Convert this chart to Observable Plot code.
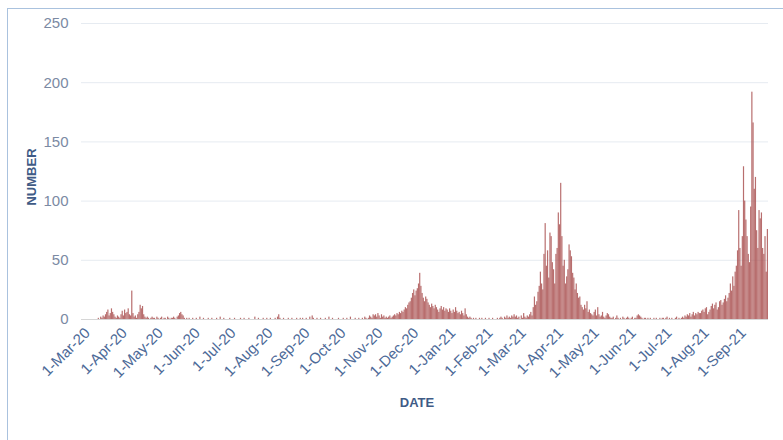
<!DOCTYPE html>
<html><head><meta charset="utf-8">
<script src="https://cdn.jsdelivr.net/npm/d3@7"></script>
<script src="https://cdn.jsdelivr.net/npm/@observablehq/plot@0.6"></script>
<style>
body{margin:0;background:#fff;width:783px;height:440px;overflow:hidden;position:relative;font-family:"Liberation Sans",Arial,sans-serif}
#frame{position:absolute;left:7px;top:8px;width:830px;height:490px;border:1.5px solid #aac2de;box-sizing:border-box}
#chart{position:absolute;left:0;top:0}
.ylab{position:absolute;left:31px;top:177px;transform:translate(-50%,-50%) rotate(-90deg);font-weight:bold;font-size:13px;color:#3f5b86;white-space:nowrap}
.xlab{position:absolute;left:417px;top:402px;transform:translate(-50%,-50%);font-weight:bold;font-size:13px;color:#3f5b86;white-space:nowrap}
</style>
</head><body>
<div id="frame"></div>
<div id="chart"></div>
<div class="ylab">NUMBER</div>
<div class="xlab">DATE</div>
<script>
const startDate = "2020-03-01";
const endDate = "2021-09-27";
// daily counts, 1-Mar-20 .. 31-Dec-20
const daily2020 = [
  // Mar
  0,0,0,0,0,0,0,0,0,0,0,0,0,0, 1,0,2,1,3,2,4,6,8,3,5,9,6,4,2,1,3,
  // Apr
  2,1,4,7,3,8,5,6,9,4, 3,24,5,2,3,1,4,6,12,9, 11,4,2,1,2,1,0,1,2,1,
  // May
  1,0,2,1,0,1,2,0,1,1, 0,2,1,0,1,1,2,1,0,2, 3,5,6,4,3,1,0,1,0,1,0,
  // Jun
  0,1,0,0,1,0,0,2,0,0, 1,0,0,0,1,0,0,1,0,0, 0,1,0,0,2,0,0,1,0,0,
  // Jul
  0,0,1,0,0,0,1,0,0,0, 0,1,0,0,1,0,0,0,1,0, 0,0,0,2,0,0,1,0,0,0, 1,
  // Aug
  0,0,1,0,0,1,0,0,0,1, 0,2,4,1,0,0,1,0,0,0, 1,0,0,1,0,0,0,1,0,0, 1,
  // Sep
  0,1,0,0,1,0,0,2,0,3, 1,0,0,1,0,0,1,0,0,0, 1,0,0,2,0,0,1,0,0,0,
  // Oct
  0,1,0,0,0,1,0,0,1,0, 0,2,0,0,0,1,0,0,1,0, 0,1,0,2,1,0,1,3,2,1, 4,
  // Nov
  3,4,2,5,3,1,4,2,3,1, 2,1,2,3,1,2,3,4,3,5, 4,6,5,7,6,8,10,9,12,14,
  // Dec
  15,18,22,25,20,24,26,30,39,28, 22,18,15,19,17,14,12,10,13,11, 9,12,10,8,6,9,11,8,10,7, 9
];
// daily counts, 1-Jan-21 .. 26-Sep-21
const daily2021 = [
  // Jan
  8,6,9,7,5,8,6,10,7,5, 6,4,7,5,3,9,4,2,1,2, 1,0,1,0,1,0,0,1,0,1, 0,
  // Feb
  0,1,0,0,1,0,0,1,0,0, 0,1,0,1,2,1,0,2,1,3, 1,2,1,3,2,4,2,3,
  // Mar
  1,2,0,3,1,5,2,1,3,2, 4,6,3,10,19,12,15,23,28,40, 30,25,55,81,45,58,35,73,70,48, 42,
  // Apr
  30,55,60,90,80,115,70,45,50,30, 36,42,63,58,53,39,35,25,30,22, 18,19,12,10,8,12,9,15,6,8,
  // May
  5,4,3,6,8,3,10,4,2,3, 6,2,1,3,5,4,2,1,1,2, 0,1,3,1,0,1,0,2,1,0, 1,
  // Jun
  2,1,0,1,2,0,1,1,3,4, 3,2,1,0,1,1,0,1,0,1, 0,0,1,0,1,0,0,1,0,1,
  // Jul
  1,0,1,2,0,1,0,1,0,0, 1,2,0,1,0,1,2,1,3,2, 4,3,5,2,4,6,3,5,4,6, 5,
  // Aug
  5,7,8,6,9,10,4,6,8,11, 13,9,12,14,8,10,15,16,12,14, 17,20,15,18,22,30,24,36,28,40, 45,
  // Sep
  58,92,60,45,70,129,100,84,70,55, 48,95,192,166,110,120,75,60,92,85, 90,60,55,70,40,76
];
const yTicks = [0, 50, 100, 150, 200, 250];
const tickDates = ["2020-03-01","2020-04-01","2020-05-01","2020-06-01","2020-07-01","2020-08-01","2020-09-01","2020-10-01","2020-11-01","2020-12-01","2021-01-01","2021-02-01","2021-03-01","2021-04-01","2021-05-01","2021-06-01","2021-07-01","2021-08-01","2021-09-01"];
const tickLabels = ["1-Mar-20","1-Apr-20","1-May-20","1-Jun-20","1-Jul-20","1-Aug-20","1-Sep-20","1-Oct-20","1-Nov-20","1-Dec-20","1-Jan-21","1-Feb-21","1-Mar-21","1-Apr-21","1-May-21","1-Jun-21","1-Jul-21","1-Aug-21","1-Sep-21"];

const values = daily2020.concat(daily2021);
const t0 = new Date(startDate);
const data = values.map((v, i) => ({date: d3.utcDay.offset(t0, i), value: v}));
const ticks = tickDates.map(d => new Date(d));
const labelMap = new Map(ticks.map((d, i) => [+d, tickLabels[i]]));

const chart = Plot.plot({
  width: 783, height: 440,
  marginLeft: 81, marginRight: 15, marginTop: 23, marginBottom: 121,
  x: {type: "utc", domain: [t0, new Date(endDate)]},
  y: {domain: [0, 250]},
  style: {fontFamily: "'Liberation Sans', Arial, sans-serif", background: "transparent"},
  marks: [
    Plot.ruleY(yTicks.slice(1), {stroke: "#e6ebf1", strokeWidth: 1}),
    Plot.rectY(data, {x: "date", y: "value", interval: "day", fill: "#a84e4e", fillOpacity: 0.82, inset: 0}),
    Plot.ruleY([0], {stroke: "#d6d6d6"}),
    Plot.axisY({ticks: yTicks, tickSize: 0, tickPadding: 13, fontSize: 15, fill: "#7b8aa3", label: null}),
    Plot.axisX({ticks: ticks, tickFormat: d => labelMap.get(+d), tickRotate: -45, tickSize: 0, tickPadding: 9, dx: 6, dy: 2, fontSize: 15, fill: "#4d6a98", label: null})
  ]
});
document.getElementById("chart").appendChild(chart);
</script>
</body></html>
